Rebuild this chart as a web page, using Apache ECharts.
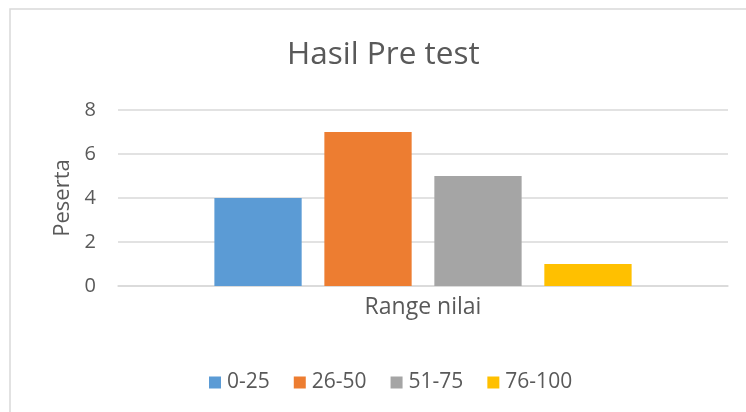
<!DOCTYPE html>
<html>
<head>
<meta charset="utf-8">
<script src="https://cdn.jsdelivr.net/npm/echarts@6/dist/echarts.min.js"></script>
<style>
  html, body { margin: 0; padding: 0; background: #fff; }
  #chart { width: 746px; height: 412px; }
</style>
</head>
<body>
<div id="chart"></div>
<script>
  var categories = ['Range nilai'];
  var seriesNames = ['0-25', '26-50', '51-75', '76-100'];
  var seriesValues = [[4], [7], [5], [1]];
  var yTicks = [0, 2, 4, 6, 8];
  var colors = ['#5B9BD5', '#ED7D31', '#A5A5A5', '#FFC000'];

  var font = '"Open Sans", "Liberation Sans", sans-serif';
  var chart = echarts.init(document.getElementById('chart'));

  var series = [];
  for (var i = 0; i < seriesNames.length; i++) {
    series.push({
      name: seriesNames[i],
      type: 'bar',
      data: seriesValues[i],
      barGap: '26%',
      barCategoryGap: '31.6%',
      itemStyle: { color: colors[i] }
    });
  }

  var option = {
    animation: false,
    color: colors,
    graphic: [{
      type: 'rect',
      shape: { x: 10, y: 9, width: 760, height: 420 },
      style: { fill: 'none', stroke: '#d9d9d9', lineWidth: 1.5 },
      z: -1
    }],
    title: {
      text: 'Hasil Pre test',
      left: 282,
      top: 34,
      textStyle: { fontFamily: font, fontWeight: 'normal', fontSize: 31.5, color: '#595959' }
    },
    legend: {
      top: 367,
      left: 204,
      itemWidth: 12,
      itemHeight: 12,
      itemGap: 24,
      icon: 'rect',
      textStyle: { fontFamily: font, fontSize: 21, color: '#595959', padding: [0, 0, 0, 1] }
    },
    grid: { left: 118, right: 18, top: 110, bottom: 126 },
    xAxis: {
      type: 'category',
      data: categories,
      axisLine: { lineStyle: { color: '#d9d9d9', width: 1.5 } },
      axisTick: { show: false },
      axisLabel: { fontFamily: font, fontSize: 23, color: '#595959', margin: 10 }
    },
    yAxis: {
      type: 'value',
      min: yTicks[0],
      max: yTicks[yTicks.length - 1],
      interval: 2,
      name: 'Peserta',
      nameLocation: 'middle',
      nameGap: 44,
      nameTextStyle: { fontFamily: font, fontSize: 22, color: '#595959' },
      axisLine: { show: false },
      axisTick: { show: false },
      axisLabel: { fontFamily: font, fontSize: 20, color: '#595959', margin: 22 },
      splitLine: { lineStyle: { color: '#d9d9d9', width: 1.5 } }
    },
    series: series
  };

  chart.setOption(option);
</script>
</body>
</html>
